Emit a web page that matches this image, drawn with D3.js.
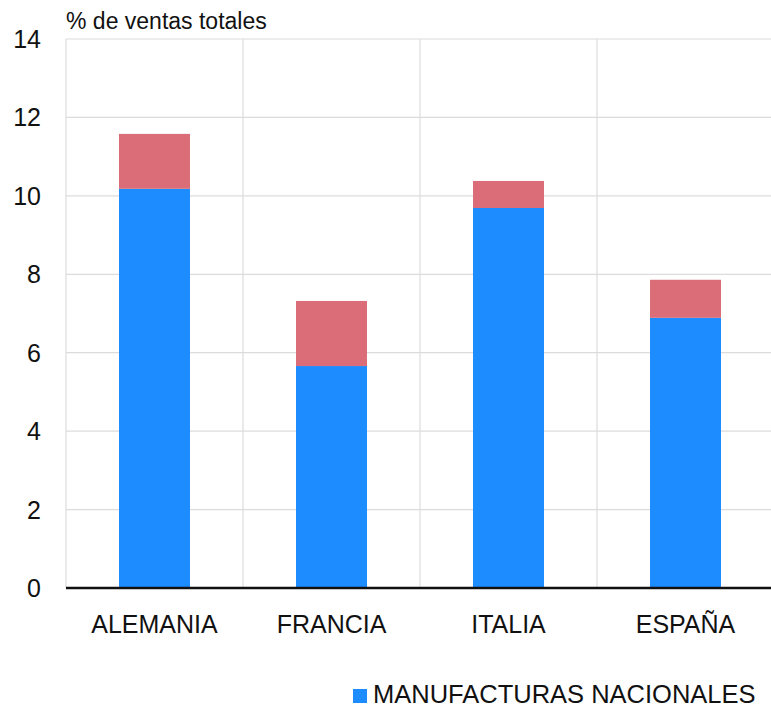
<!DOCTYPE html>
<html lang="es">
<head>
<meta charset="UTF-8">
<title>% de ventas totales</title>
<script src="https://d3js.org/d3.v7.min.js"></script>
<style>
  body { margin: 0; background: #fff; font-family: "Liberation Sans", Arial, sans-serif; }
  text { fill: #111; }
</style>
</head>
<body>
<div id="chart"></div>
<script>
// data
const countries = ["ALEMANIA", "FRANCIA", "ITALIA", "ESPAÑA"];
const nacionales = [10.18, 5.66, 9.69, 6.89];   // blue
const otros = [1.40, 1.66, 0.69, 0.97];          // red, stacked on top
const yTicks = [0, 2, 4, 6, 8, 10, 12, 14];

const width = 771, height = 709;
const margin = { top: 39, right: 0, bottom: 121, left: 66 };

const svg = d3.select("#chart").append("svg")
  .attr("width", width)
  .attr("height", height);

const x = d3.scaleBand()
  .domain(countries)
  .range([margin.left, 774])
  .paddingInner(0)
  .paddingOuter(0);

const y = d3.scaleLinear()
  .domain([0, 14])
  .range([height - margin.bottom, margin.top]);

// horizontal grid
svg.append("g").selectAll("line")
  .data(yTicks.slice(1))
  .join("line")
  .attr("x1", margin.left).attr("x2", width)
  .attr("y1", d => y(d)).attr("y2", d => y(d))
  .attr("stroke", "#dcdcdc").attr("stroke-width", 1.2);

// vertical grid at band edges
svg.append("g").selectAll("line")
  .data(countries)
  .join("line")
  .attr("x1", d => x(d)).attr("x2", d => x(d))
  .attr("y1", y(14)).attr("y2", y(0))
  .attr("stroke", "#dcdcdc").attr("stroke-width", 1.2);

// y tick labels
svg.append("g").selectAll("text")
  .data(yTicks)
  .join("text")
  .attr("x", 41)
  .attr("y", d => y(d) + 9)
  .attr("text-anchor", "end")
  .style("font-size", "25px")
  .text(d => d);

const barW = 71;
const stacked = countries.map((c, i) => ({ c, a: nacionales[i], b: otros[i] }));

// blue
svg.append("g").selectAll("rect")
  .data(stacked)
  .join("rect")
  .attr("x", d => x(d.c) + x.bandwidth() / 2 - barW / 2)
  .attr("width", barW)
  .attr("y", d => y(d.a))
  .attr("height", d => y(0) - y(d.a))
  .attr("fill", "#1d8cff");

// red
svg.append("g").selectAll("rect")
  .data(stacked)
  .join("rect")
  .attr("x", d => x(d.c) + x.bandwidth() / 2 - barW / 2)
  .attr("width", barW)
  .attr("y", d => y(d.a + d.b))
  .attr("height", d => y(d.a) - y(d.a + d.b))
  .attr("fill", "#da6d78");

// baseline
svg.append("line")
  .attr("x1", margin.left).attr("x2", width)
  .attr("y1", y(0)).attr("y2", y(0))
  .attr("stroke", "#111").attr("stroke-width", 2.5);

// category labels
svg.append("g").selectAll("text")
  .data(countries)
  .join("text")
  .attr("x", d => x(d) + x.bandwidth() / 2)
  .attr("y", 633)
  .attr("text-anchor", "middle")
  .style("font-size", "25px")
  .text(d => d);

// axis title
svg.append("text")
  .attr("x", 66).attr("y", 29)
  .style("font-size", "23px")
  .text("% de ventas totales");

// legend
svg.append("rect")
  .attr("x", 353).attr("y", 689)
  .attr("width", 14).attr("height", 14)
  .attr("fill", "#1d8cff");
svg.append("text")
  .attr("x", 373).attr("y", 703)
  .style("font-size", "25.5px")
  .text("MANUFACTURAS NACIONALES");
</script>
</body>
</html>
